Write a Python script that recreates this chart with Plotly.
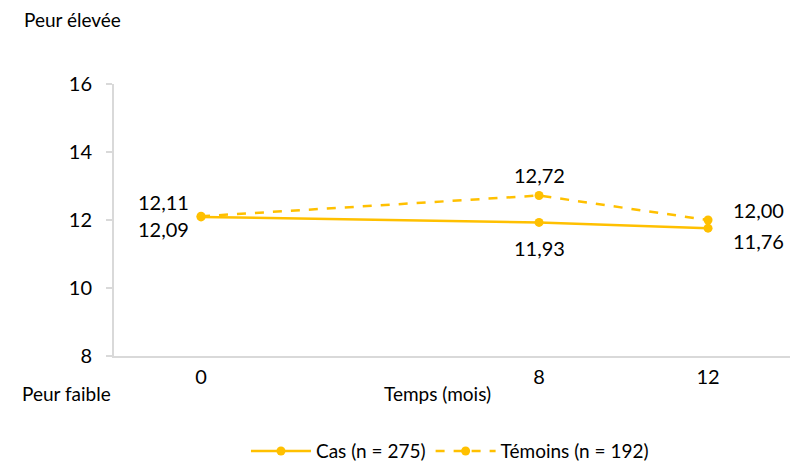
import plotly.graph_objects as go

mois = [0, 8, 12]
cas = [12.09, 11.93, 11.76]
temoins = [12.11, 12.72, 12.00]
y_ticks = [8, 10, 12, 14, 16]
nom_cas = "Cas (n = 275)"
nom_temoins = "Témoins (n = 192)"

GOLD = "#FFC000"
GRID = "#D9D9D9"
FONT = "Lato, 'Open Sans', sans-serif"
FS = 20

def fr(v):
    return f"{v:.2f}".replace(".", ",")

fig = go.Figure()
fig.add_trace(go.Scatter(x=mois, y=cas, name=nom_cas, mode="lines+markers",
                         line=dict(color=GOLD, width=2.5),
                         marker=dict(color=GOLD, size=9)))
fig.add_trace(go.Scatter(x=mois, y=temoins, name=nom_temoins, mode="lines+markers",
                         line=dict(color=GOLD, width=2.5, dash="dash"),
                         marker=dict(color=GOLD, size=9)))

ann = []
off_cas = [(-38, -12), (0, -26), (50, -13)]
off_tem = [(-38, 14), (0, 21), (50, 10)]
for i, xv in enumerate(mois):
    dx, dy = off_cas[i]
    ann.append(dict(x=xv, y=cas[i], xref="x", yref="y", text=fr(cas[i]),
                    showarrow=False, xshift=dx, yshift=dy, xanchor="center", yanchor="middle",
                    font=dict(family=FONT, size=FS, color="#000")))
    dx, dy = off_tem[i]
    ann.append(dict(x=xv, y=temoins[i], xref="x", yref="y", text=fr(temoins[i]),
                    showarrow=False, xshift=dx, yshift=dy, xanchor="center", yanchor="middle",
                    font=dict(family=FONT, size=FS, color="#000")))

def paper_ann(px, py, text):
    return dict(x=(px - 114) / 676, y=(356 - py) / 272, xref="paper", yref="paper",
                text=text, showarrow=False, xanchor="center", yanchor="middle",
                font=dict(family=FONT, size=19, color="#000"))

ann.append(paper_ann(437, 393, "Temps (mois)"))
ann.append(paper_ann(66, 393, "Peur faible"))
ann.append(paper_ann(72, 20, "Peur élevée"))

fig.update_layout(
    width=790, height=461,
    margin=dict(l=114, r=0, t=84, b=105, autoexpand=False),
    plot_bgcolor="white", paper_bgcolor="white",
    font=dict(family=FONT, size=FS, color="#000"),
    showlegend=True,
    legend=dict(orientation="h", x=0.497, xanchor="center", y=-0.35, yanchor="middle",
                font=dict(family=FONT, size=19, color="#000"), itemwidth=60),
    annotations=ann,
    xaxis=dict(range=[-2.06, 13.94], tickvals=mois, ticktext=[str(m) for m in mois],
               showgrid=False, zeroline=False, showline=True, linecolor=GRID, linewidth=2,
               ticks="", tickfont=dict(family=FONT, size=FS), ticklabelstandoff=2),
    yaxis=dict(range=[8, 16], tickvals=y_ticks, showgrid=False, zeroline=False,
               showline=True, linecolor=GRID, linewidth=2, ticks="outside", ticklen=6,
               tickcolor=GRID, tickwidth=2, tickfont=dict(family=FONT, size=FS),
               ticklabelstandoff=10),
)

fig.write_html("out.html")
